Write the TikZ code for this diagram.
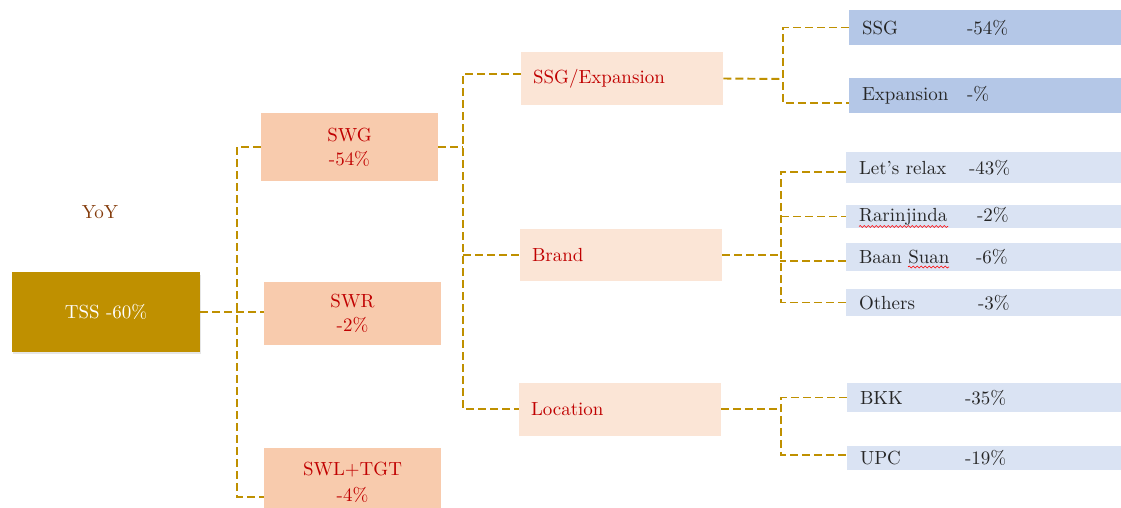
\documentclass[tikz,border=0pt]{standalone}
\usepackage{tikz}
\usetikzlibrary{shadows,decorations.pathmorphing}
\definecolor{tssgold}{HTML}{BF9000}
\definecolor{salmon}{HTML}{F8CBAD}
\definecolor{peach}{HTML}{FBE5D6}
\definecolor{segblue}{HTML}{B4C7E7}
\definecolor{subblue}{HTML}{DAE3F3}
\definecolor{darkred}{HTML}{C00000}
\definecolor{yoybrown}{HTML}{843C0C}
\definecolor{ink}{HTML}{262626}
\tikzset{
    x=0.02cm,
    y=-0.02cm,
    every node/.style = {
        font=\fontsize{10.8}{13.6}\selectfont
    },
    total/.style = {
        shape=rectangle,
        fill=tssgold,
        text=white,
        minimum width=3.76cm,
        minimum height=1.6cm,
        drop shadow={shadow xshift=0.02cm, shadow yshift=-0.05cm, opacity=0.2}
    },
    region/.style = {
        shape=rectangle,
        fill=salmon,
        text=darkred,
        align=center,
        minimum width=3.54cm
    },
    split/.style = {
        shape=rectangle,
        fill=peach,
        text=darkred,
        align=left,
        text width=3.56cm,
        inner xsep=0.24cm,
        minimum height=1.06cm
    },
    leaf/.style = {
        shape=rectangle,
        fill=subblue,
        text=ink,
        align=left,
        text width=5.02cm,
        inner xsep=0.26cm,
        inner ysep=0pt
    },
    link/.style = {
        draw=tssgold,
        line width=1.1pt,
        dash pattern=on 0.16cm off 0.08cm
    },
    spell/.style = {
        draw=red,
        line width=0.35pt,
        decorate,
        decoration={snake, amplitude=0.02cm, segment length=0.08cm}
    }
}
\newcommand{\leafrow}[3][2.1cm]{\makebox[#1][l]{#2}#3}

\begin{document}
\begin{tikzpicture}
    \useasboundingbox (0,0) rectangle (1121,507);

    \node[text=yoybrown] (yoy) at (100,212) {YoY};
    \node[total] (tss) at (106,312) {TSS -60\%};

    \node[region, minimum height=1.36cm] (swg) at (349.5,147) {SWG\\-54\%};
    \node[region, minimum height=1.26cm] (swr) at (352.5,313.5) {SWR\\-2\%};
    \node[region, minimum height=1.36cm, font=\fontsize{10.8}{14.7}\selectfont] (swl) at (352.5,482) {SWL+TGT\\-4\%};

    \node[split] (ssgexp) at (622,78.5) {SSG/Expansion};
    \node[split] (brand) at (621,255) {Brand};
    \node[split] (location) at (620,409) {Location};

    \node[leaf, fill=segblue, minimum height=0.7cm] (ssg) at (987.5,27.5) {\leafrow{SSG}{-54\%}};
    \node[leaf, fill=segblue, minimum height=0.7cm] (expansion) at (987.5,95.5) {\leafrow{Expansion}{-\%}};
    \node[leaf, minimum height=0.62cm] (letsrelax) at (984.5,167.5) {\leafrow[2.2cm]{Let's relax}{-43\%}};
    \node[leaf, minimum height=0.46cm] (rarinjinda) at (984.5,216.5) {\leafrow[2.36cm]{Rarinjinda}{-2\%}};
    \node[leaf, minimum height=0.56cm] (baansuan) at (984.5,257) {\leafrow[2.34cm]{Baan Suan}{-6\%}};
    \node[leaf, minimum height=0.54cm] (others) at (984.5,302.5) {\leafrow[2.38cm]{Others}{-3\%}};
    \node[leaf, minimum height=0.58cm] (bkk) at (985.5,397.5) {\leafrow{BKK}{-35\%}};
    \node[leaf, minimum height=0.48cm] (upc) at (985.5,458) {\leafrow{UPC}{-19\%}};

    % forks
    \coordinate (tssfork) at (237,312);
    \coordinate (swgfork) at (463,147);
    \coordinate (ssgexpfork) at (783,79);
    \coordinate (brandfork) at (781,255);
    \coordinate (locationfork) at (781,409);

    \path[link] (tss.east) -- (tssfork -| swr.west);
    \path[link] (swg.west) -| (tssfork) |- ([yshift=-0.3cm]swl.west);

    \path[link] (swg.east) -- (swgfork);
    \path[link] ([yshift=0.09cm]ssgexp.west) -| (swgfork) |- (location.west);
    \path[link] (swgfork |- brand.west) -- (brand.west);

    \path[link] (ssgexp.east) -- (ssgexpfork);
    \path[link] (ssg.west) -| (ssgexpfork) |- ([yshift=-0.15cm]expansion.west);

    \path[link] (brand.east) -- (brandfork);
    \path[link] ([yshift=-0.09cm]letsrelax.west) -| (brandfork) |- (others.west);
    \path[link] (brandfork |- rarinjinda.west) -- (rarinjinda.west);
    \path[link] ([yshift=-0.08cm]baansuan.west) -- ++(-66,0);

    \path[link] (location.east) -- (locationfork);
    \path[link] (bkk.west) -| (locationfork) |- ([yshift=0.06cm]upc.west);

    % spelling marks
    \path[spell] (859,226.5) -- (948,226.5);
    \path[spell] (908,267) -- (949,267);
\end{tikzpicture}
\end{document}
